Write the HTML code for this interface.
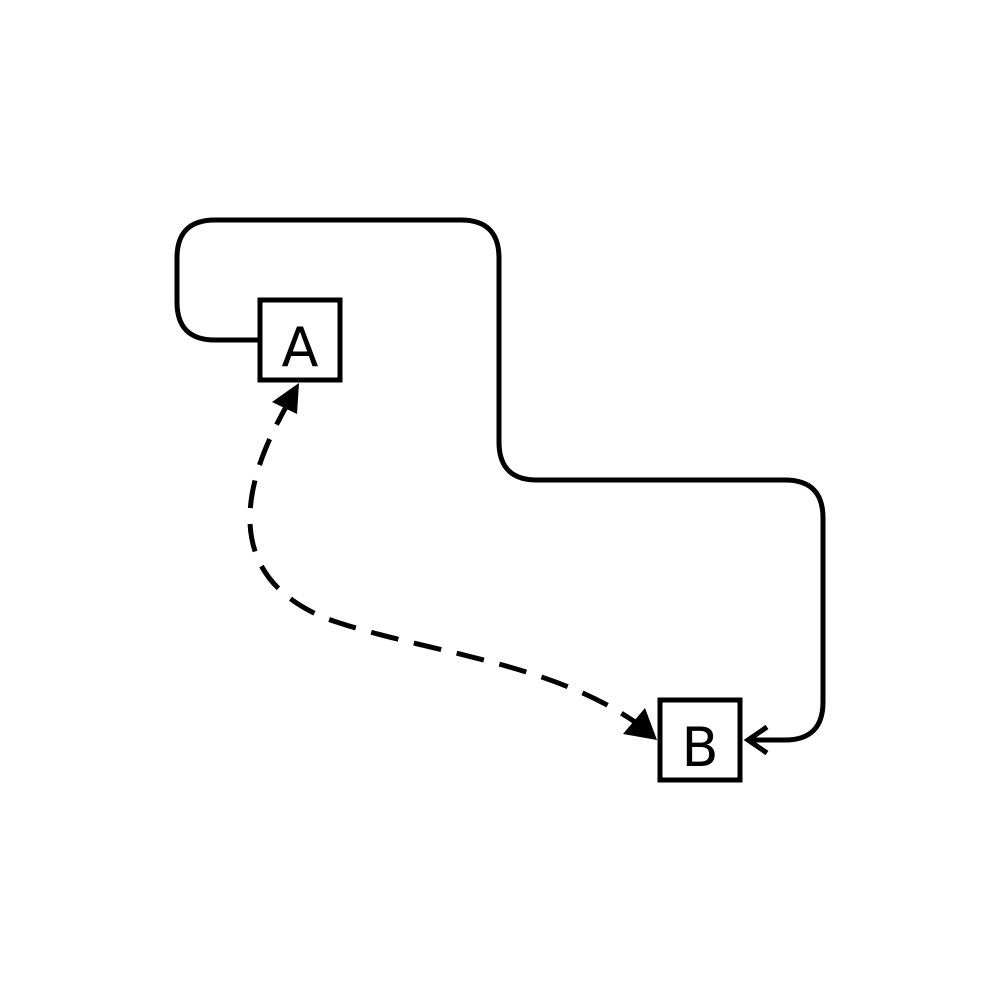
<!DOCTYPE html>
<html>
<head>
<meta charset="utf-8">
<style>
  html,body{margin:0;padding:0;background:#fff;}
  svg{display:block;}
</style>
</head>
<body>
<svg width="1000" height="1000" viewBox="0 0 1000 1000" xmlns="http://www.w3.org/2000/svg">
  <rect x="0" y="0" width="1000" height="1000" fill="#fff"/>

  <path
        d="M260,340 L215,340 Q177,340 177,302 L177,258 Q177,220 215,220 L461,220 Q499,220 499,258 L499,442 Q499,480 537,480 L785,480 Q823,480 823,518 L823,702 Q823,740 785,740 L748,740"
        fill="none" stroke="#000" stroke-width="5"/>
  <path
        d="M767,727 L748,740 L767,753" fill="none" stroke="#000" stroke-width="5"/>

  <path
        d="M290,400 C240,485 222,575 325,618 C420,652 545,660 635,722"
        fill="none" stroke="#000" stroke-width="5" stroke-dasharray="28,16"/>
  <path d="M299,383 L272,402 L297,414 Z" fill="#000"/>
  <path d="M657,740 L623,734 L645,708 Z" fill="#000"/>

  <g>
    <rect x="260" y="300" width="80" height="80" fill="#fff" stroke="#000" stroke-width="5"/>
    <text x="300" y="366" text-anchor="middle" font-family="'DejaVu Sans','Liberation Sans',sans-serif" font-size="54" fill="#000">A</text>
  </g>
  <g>
    <rect x="660" y="700" width="80" height="80" fill="#fff" stroke="#000" stroke-width="5"/>
    <text x="700" y="766" text-anchor="middle" font-family="'DejaVu Sans','Liberation Sans',sans-serif" font-size="54" fill="#000">B</text>
  </g>
</svg>
</body>
</html>
